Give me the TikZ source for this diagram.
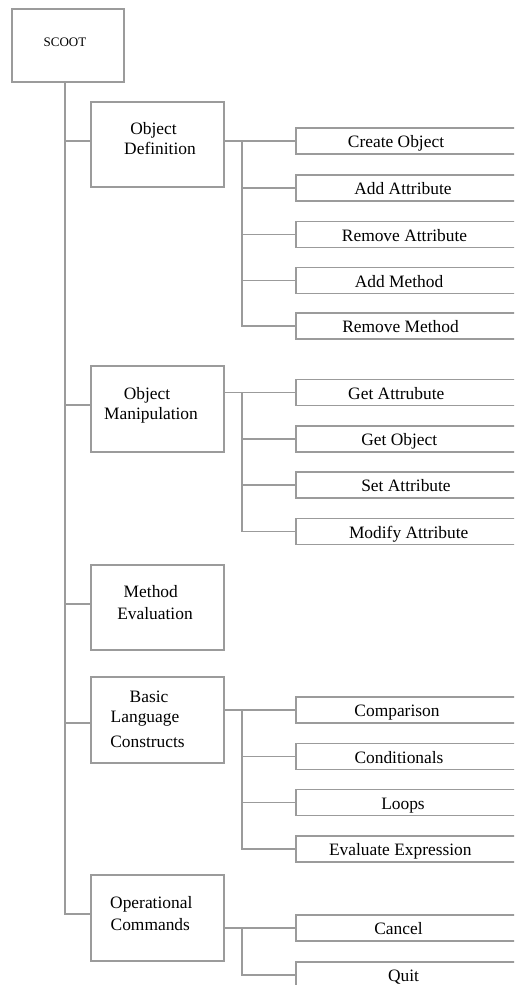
\documentclass[tikz,border=0pt]{standalone}
\usepackage{fontspec}
\setmainfont{Liberation Serif}
\definecolor{linec}{RGB}{155,155,155}
\begin{document}
\begin{tikzpicture}[x=1pt,y=-1pt,
  ln/.style={draw=linec, line width=1.5pt},
  bx/.style={draw=linec, line width=1.5pt, rectangle, inner sep=0pt, anchor=north west},
  topbox/.style={bx, minimum width=133pt},
  leaf/.style={bx, minimum width=240pt, minimum height=26pt},
  txt/.style={anchor=base, inner sep=0pt, font=\fontsize{17.4}{20}\selectfont, text=black},
]
\useasboundingbox (0,0) rectangle (514,985);
\clip (0,0) rectangle (514,985);
\coordinate (trunk) at (64,0);
\coordinate (bus) at (242,0);

% root
\node[bx, minimum width=112pt, minimum height=73pt] (scoot) at (11,8) {};
\node[txt, font=\fontsize{13}{15}\selectfont] (tscoot) at (65,46.5) {SCOOT};

% level 1
\node[topbox, minimum height=85pt] (od) at (90,101) {};
\node[topbox, minimum height=86pt] (om) at (90,365) {};
\node[topbox, minimum height=85pt] (me) at (90,564) {};
\node[topbox, minimum height=86pt] (blc) at (90,676) {};
\node[topbox, minimum height=86pt] (oc) at (90,874) {};

\node[txt] (tod1) at (153.5,134) {Object};
\node[txt] (tod2) at (160,154) {Definition};
\node[txt] (tom1) at (147,399) {Object};
\node[txt] (tom2) at (151,419) {Manipulation};
\node[txt] (tme1) at (150.8,597) {Method};
\node[txt] (tme2) at (155,619) {Evaluation};
\node[txt] (tblc1) at (149,702.7) {Basic};
\node[txt] (tblc2) at (145,722.7) {Language};
\node[txt] (tblc3) at (147.5,747.7) {Constructs};
\node[txt] (toc1) at (151.3,908) {Operational};
\node[txt] (toc2) at (150.3,930) {Commands};

% leaves
\node[leaf] (co) at (295,127) {};
\node[leaf] (aa) at (295,174) {};
\node[leaf] (ra) at (295,220.5) {};
\node[leaf] (am) at (295,266.5) {};
\node[leaf] (rm) at (295,312) {};
\node[leaf] (ga) at (295,378.5) {};
\node[leaf] (go) at (295,425) {};
\node[leaf] (sa) at (295,471) {};
\node[leaf] (ma) at (295,517.5) {};
\node[leaf] (cmp) at (295,696) {};
\node[leaf] (cnd) at (295,742.5) {};
\node[leaf] (lps) at (295,788.5) {};
\node[leaf] (ee) at (295,835) {};
\node[leaf] (can) at (295,914) {};
\node[leaf] (quit) at (295,961) {};

\node[txt] (tco) at (396,147.5) {Create Object};
\node[txt] (taa) at (403,194.5) {Add Attribute};
\node[txt] (tra) at (404.5,241) {Remove Attribute};
\node[txt] (tam) at (399,287) {Add Method};
\node[txt] (trm) at (400.5,332.5) {Remove Method};
\node[txt] (tga) at (396.3,399) {Get Attrubute};
\node[txt] (tgo) at (399.3,445.5) {Get Object};
\node[txt] (tsa) at (406,491.5) {Set Attribute};
\node[txt] (tma) at (408.7,538) {Modify Attribute};
\node[txt] (tcmp) at (397,716.5) {Comparison};
\node[txt] (tcnd) at (399,763) {Conditionals};
\node[txt] (tlps) at (403,809) {Loops};
\node[txt] (tee) at (400.3,855.5) {Evaluate Expression};
\node[txt] (tcan) at (398.5,934.5) {Cancel};
\node[txt] (tquit) at (403.5,981.5) {Quit};

% connection points on the left sides of the level-1 boxes
\coordinate (odl) at ([yshift=3.5pt]od.west);
\coordinate (oml) at ([yshift=4pt]om.west);
\coordinate (mel) at ([yshift=3.5pt]me.west);
\coordinate (blcl) at ([yshift=-3pt]blc.west);
\coordinate (ocl) at ([yshift=4pt]oc.west);

% trunk
\draw[ln] ([xshift=-3pt]scoot.south) |- (ocl);
\foreach \n in {odl,oml,mel,blcl} \draw[ln] (trunk |- \n) -- (\n);

% object definition branch
\draw[ln] (co.west -| od.east) -- (co.west);
\draw[ln] (bus |- co.west) |- (rm.west);
\foreach \n in {aa,ra,am} \draw[ln] (bus |- \n.west) -- (\n.west);

% object manipulation branch
\draw[ln] (ga.west -| om.east) -- (ga.west);
\draw[ln] (bus |- ga.west) |- (ma.west);
\foreach \n in {go,sa} \draw[ln] (bus |- \n.west) -- (\n.west);

% basic language constructs branch
\draw[ln] (cmp.west -| blc.east) -- (cmp.west);
\draw[ln] (bus |- cmp.west) |- (ee.west);
\foreach \n in {cnd,lps} \draw[ln] (bus |- \n.west) -- (\n.west);

% operational commands branch
\draw[ln] (can.west -| oc.east) -- (can.west);
\draw[ln] (bus |- can.west) |- (quit.west);
\end{tikzpicture}
\end{document}
